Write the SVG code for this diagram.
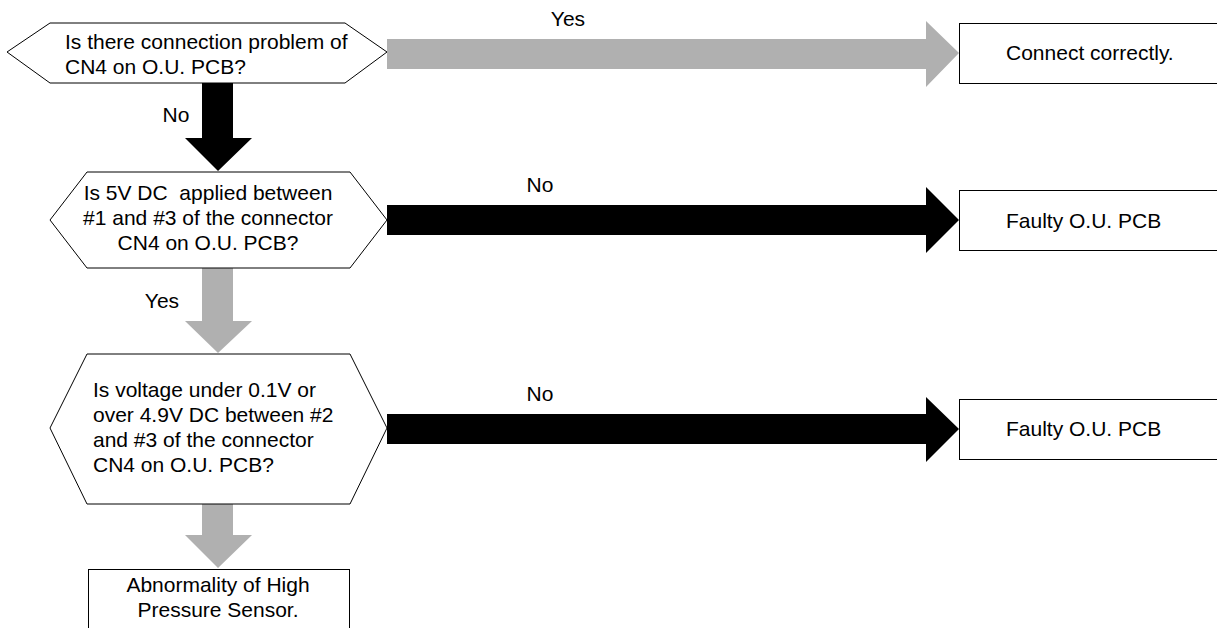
<svg xmlns="http://www.w3.org/2000/svg" width="1217" height="628" viewBox="0 0 1217 628">
  <style>
    .shape { fill: #ffffff; stroke: #000000; stroke-width: 1; }
    .txt { font-family: "Liberation Sans", Arial, sans-serif; font-size: 21px; fill: #000000; }
    .mid { text-anchor: middle; }
    .yes { fill: #b0b0b0; }
    .no { fill: #000000; }
  </style>
  <rect width="1217" height="628" fill="#ffffff"/>

  <!-- connectors: block arrows -->
  <g id="connectors">
    <!-- Q1 Yes -> Connect correctly -->
    <polygon class="yes" points="387,39 926,39 926,21 959,53 926,87 926,69 387,69"/>
    <text class="txt mid" x="568" y="26">Yes</text>
    <!-- Q1 No -> Q2 -->
    <polygon class="no" points="202,83 233,83 233,138 252,138 218,171 185,138 202,138"/>
    <text class="txt mid" x="176" y="122">No</text>
    <!-- Q2 No -> Faulty -->
    <polygon class="no" points="387,205 926,205 926,187 959,220 926,253 926,235 387,235"/>
    <text class="txt mid" x="540" y="192">No</text>
    <!-- Q2 Yes -> Q3 -->
    <polygon class="yes" points="202,268 233,268 233,321 252,321 218,353 185,321 202,321"/>
    <text class="txt mid" x="162" y="308">Yes</text>
    <!-- Q3 No -> Faulty -->
    <polygon class="no" points="387,414 926,414 926,397 959,429 926,462 926,444 387,444"/>
    <text class="txt mid" x="540" y="401">No</text>
    <!-- Q3 -> Abnormality -->
    <polygon class="yes" points="202,504 233,504 233,535 252,535 218,568 185,535 202,535"/>
  </g>

  <!-- decision 1 -->
  <g id="q1">
    <polygon class="shape" points="7,52 50,23 345,23 387,52 345,83 50,83"/>
    <text class="txt" x="65" y="49">Is there connection problem of</text>
    <text class="txt" x="65" y="74">CN4 on O.U. PCB?</text>
  </g>

  <!-- decision 2 -->
  <g id="q2">
    <polygon class="shape" points="50,220 87,172 350,172 387,220 350,268 87,268"/>
    <text class="txt mid" x="208" y="200" xml:space="preserve">Is 5V DC  applied between</text>
    <text class="txt mid" x="208" y="225">#1 and #3 of the connector</text>
    <text class="txt mid" x="208" y="250">CN4 on O.U. PCB?</text>
  </g>

  <!-- decision 3 -->
  <g id="q3">
    <polygon class="shape" points="50,428 87,354 350,354 387,428 350,504 87,504"/>
    <text class="txt" x="93" y="397">Is voltage under 0.1V or</text>
    <text class="txt" x="93" y="422">over 4.9V DC between #2</text>
    <text class="txt" x="93" y="447">and #3 of the connector</text>
    <text class="txt" x="93" y="472">CN4 on O.U. PCB?</text>
  </g>

  <!-- outcomes -->
  <g id="connect-correctly">
    <rect class="shape" x="959.5" y="23.5" width="270" height="60"/>
    <text class="txt" x="1006" y="60">Connect correctly.</text>
  </g>

  <g id="faulty-1">
    <rect class="shape" x="959.5" y="190.5" width="270" height="60"/>
    <text class="txt" x="1006" y="228">Faulty O.U. PCB</text>
  </g>

  <g id="faulty-2">
    <rect class="shape" x="959.5" y="399.5" width="270" height="60"/>
    <text class="txt" x="1006" y="436">Faulty O.U. PCB</text>
  </g>

  <g id="abnormality">
    <rect class="shape" x="88.5" y="569.5" width="261" height="70"/>
    <text class="txt mid" x="218" y="592">Abnormality of High</text>
    <text class="txt mid" x="218" y="617">Pressure Sensor.</text>
  </g>
</svg>
